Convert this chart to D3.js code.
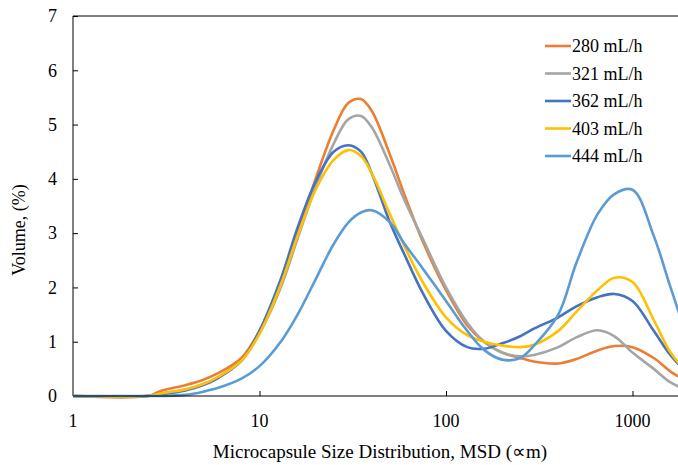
<!DOCTYPE html>
<html>
<head>
<meta charset="utf-8">
<script src="https://cdn.jsdelivr.net/npm/d3@7"></script>
<style>
  body { margin: 0; background: #fff; }
  svg { display: block; font-family: "Liberation Serif", "Times New Roman", serif; }
</style>
</head>
<body>
<svg id="chart" width="678" height="465"></svg>
<script>
/* ── Data ────────────────────────────────────────────────── */
const sizes = [1, 2.5, 3, 4, 5, 6, 8, 10, 13, 16, 20, 25, 30, 35, 40, 50, 60, 75, 100,
               130, 160, 200, 250, 300, 400, 500, 650, 800, 1000, 1300, 1600, 2000];

const flow280 = [0, 0, 0.1, 0.2, 0.3, 0.42, 0.7, 1.2, 2.1, 3.0, 4.0, 4.9, 5.4, 5.47, 5.25, 4.45, 3.7, 2.85, 1.95,
                 1.3, 1.0, 0.8, 0.7, 0.63, 0.6, 0.68, 0.84, 0.92, 0.9, 0.7, 0.45, 0.25];
const flow321 = [0, 0, 0.05, 0.12, 0.22, 0.35, 0.65, 1.15, 2.0, 2.9, 3.85, 4.65, 5.1, 5.16, 4.95, 4.25, 3.6, 2.9, 2.0,
                 1.35, 1.0, 0.8, 0.73, 0.76, 0.9, 1.08, 1.21, 1.1, 0.8, 0.5, 0.25, 0.1];
const flow362 = [0, 0, 0.03, 0.1, 0.2, 0.33, 0.65, 1.2, 2.15, 3.1, 3.95, 4.5, 4.62, 4.5, 4.1, 3.2, 2.6, 1.9, 1.2,
                 0.9, 0.87, 0.97, 1.1, 1.25, 1.45, 1.65, 1.82, 1.88, 1.75, 1.2, 0.75, 0.4];
const flow403 = [0, 0, 0.05, 0.12, 0.22, 0.35, 0.65, 1.15, 2.05, 2.95, 3.8, 4.35, 4.53, 4.42, 4.1, 3.35, 2.75, 2.1, 1.45,
                 1.12, 1.0, 0.93, 0.9, 0.95, 1.2, 1.55, 1.95, 2.18, 2.1, 1.4, 0.8, 0.4];
const flow444 = [0, 0, 0, 0.02, 0.08, 0.15, 0.32, 0.55, 1.0, 1.5, 2.15, 2.8, 3.2, 3.38, 3.42, 3.2, 2.8, 2.35, 1.75,
                 1.2, 0.85, 0.67, 0.7, 0.95, 1.5, 2.45, 3.35, 3.72, 3.8, 2.95, 2.0, 1.0];

const seriesNames = ['280 mL/h', '321 mL/h', '362 mL/h', '403 mL/h', '444 mL/h'];
const seriesValues = [flow280, flow321, flow362, flow403, flow444];
const seriesColors = ['#ED7D31', '#A5A5A5', '#4472C4', '#FFC000', '#5B9BD5'];

const xTicks = [1, 10, 100, 1000];
const yTicks = [0, 1, 2, 3, 4, 5, 6, 7];

/* ── Layout ──────────────────────────────────────────────── */
const width = 678, height = 465;
const margin = { left: 73, top: 16, bottom: 396 };
const decade = 186.5;

const svg = d3.select('#chart');

const x = d3.scaleLog()
  .domain([1, 2000])
  .range([margin.left, margin.left + decade * Math.log10(2000)]);

const y = d3.scaleLinear()
  .domain([0, 7])
  .range([margin.bottom, margin.top]);

/* ── Frame & axes ────────────────────────────────────────── */
svg.append('line')
  .attr('x1', margin.left).attr('x2', width)
  .attr('y1', margin.top).attr('y2', margin.top)
  .attr('stroke', '#000').attr('stroke-width', 1);

const yAxis = svg.append('g')
  .attr('transform', `translate(${margin.left},0)`)
  .call(d3.axisRight(y).tickValues(yTicks).tickSize(5).tickFormat(''));
yAxis.select('.domain').attr('d', `M0,${margin.top}V${margin.bottom}`);

svg.append('g').selectAll('text')
  .data(yTicks)
  .join('text')
  .attr('x', 57)
  .attr('y', d => y(d))
  .attr('dy', '0.35em')
  .attr('text-anchor', 'end')
  .attr('font-size', 18)
  .text(d => d);

/* ── Lines ───────────────────────────────────────────────── */
const line = d3.line()
  .x(d => x(d[0]))
  .y(d => Math.min(y(d[1]), margin.bottom))
  .curve(d3.curveCatmullRom.alpha(0.5));

svg.append('g').selectAll('path')
  .data(seriesValues)
  .join('path')
  .attr('fill', 'none')
  .attr('stroke', (d, i) => seriesColors[i])
  .attr('stroke-width', 2.6)
  .attr('stroke-linejoin', 'round')
  .attr('d', vals => line(sizes.map((s, i) => [s, vals[i]])));

const xAxis = svg.append('g')
  .attr('transform', `translate(0,${margin.bottom})`)
  .call(d3.axisTop(x).tickValues(xTicks.slice(1)).tickSize(5).tickFormat(''));
xAxis.select('.domain').attr('d', `M${margin.left},0H${width}`);

svg.append('g').selectAll('text')
  .data(xTicks)
  .join('text')
  .attr('x', d => x(d))
  .attr('y', 427)
  .attr('text-anchor', 'middle')
  .attr('font-size', 18)
  .text(d => d);

/* ── Axis titles ─────────────────────────────────────────── */
svg.append('text')
  .attr('x', 380).attr('y', 458)
  .attr('text-anchor', 'middle')
  .attr('font-size', 19)
  .text('Microcapsule Size Distribution, MSD (\u221Dm)');

svg.append('text')
  .attr('transform', 'translate(25,230) rotate(-90)')
  .attr('text-anchor', 'middle')
  .attr('font-size', 18)
  .text('Volume, (%)');

/* ── Legend ──────────────────────────────────────────────── */
const legend = svg.append('g').attr('transform', 'translate(545,46)');
const item = legend.selectAll('g')
  .data(seriesNames)
  .join('g')
  .attr('transform', (d, i) => `translate(0,${i * 27.5})`);
item.append('line')
  .attr('x1', 0).attr('x2', 26)
  .attr('stroke', (d, i) => seriesColors[i])
  .attr('stroke-width', 2.6);
item.append('text')
  .attr('x', 27).attr('dy', '0.35em')
  .attr('font-size', 18)
  .text(d => d);
</script>
</body>
</html>
